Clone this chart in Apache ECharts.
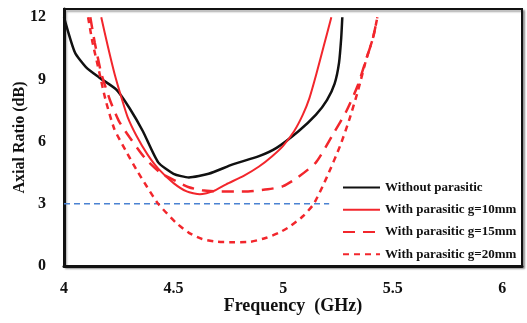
<!DOCTYPE html>
<html>
<head>
<meta charset="utf-8">
<script src="https://cdn.jsdelivr.net/npm/echarts@6/dist/echarts.min.js"></script>
<style>
  html, body { margin: 0; padding: 0; background: #fff; }
  #chart { width: 527px; height: 323px; }
</style>
</head>
<body>
<div id="chart"></div>
<script>
// Axial ratio (dB) vs frequency (GHz)
const withoutParasitic = [
  [4.0, 12], [4.05, 10.3], [4.1, 9.6], [4.16, 9.1], [4.24, 8.5], [4.3, 7.6],
  [4.36, 6.5], [4.43, 5.0], [4.5, 4.45], [4.57, 4.27], [4.66, 4.45], [4.77, 4.9],
  [4.89, 5.3], [4.97, 5.7], [5.07, 6.5], [5.15, 7.3], [5.2, 8.0], [5.235, 8.8],
  [5.255, 9.8], [5.265, 11], [5.27, 12]
];
const parasiticG10 = [
  [4.17, 12], [4.2, 10.6], [4.23, 9.3], [4.26, 8.2], [4.29, 7.2], [4.33, 6.3],
  [4.38, 5.4], [4.43, 4.7], [4.5, 4.0], [4.56, 3.6], [4.62, 3.46], [4.68, 3.6],
  [4.74, 3.94], [4.82, 4.35], [4.89, 4.8], [4.95, 5.3], [5.0, 5.8], [5.05, 6.5],
  [5.09, 7.3], [5.12, 8.1], [5.15, 9.2], [5.185, 10.6], [5.22, 12]
];
const parasiticG15 = [
  [4.12, 12], [4.14, 10.8], [4.17, 9.3], [4.21, 8.0], [4.25, 7.0], [4.3, 6.2],
  [4.37, 5.2], [4.44, 4.5], [4.51, 4.1], [4.57, 3.8], [4.63, 3.65], [4.7, 3.6],
  [4.84, 3.6], [4.93, 3.7], [5.0, 3.85], [5.07, 4.3], [5.15, 5.0], [5.23, 6.4],
  [5.29, 7.5], [5.34, 8.7], [5.38, 10.0], [5.41, 11.0], [5.43, 12]
];
const parasiticG20 = [
  [4.11, 12], [4.13, 10.8], [4.16, 9.4], [4.19, 8.0], [4.23, 6.6], [4.28, 5.6],
  [4.33, 4.66], [4.38, 3.8], [4.43, 3.0], [4.51, 2.1], [4.57, 1.6], [4.63, 1.3],
  [4.7, 1.17], [4.77, 1.15], [4.85, 1.17], [4.92, 1.35], [4.98, 1.6], [5.03, 1.9],
  [5.09, 2.4], [5.14, 3.0], [5.2, 4.3], [5.26, 5.8], [5.3, 7.0], [5.34, 8.4],
  [5.38, 10.0], [5.41, 11.0], [5.43, 12]
];
const threshold3dB = [[4.0, 3], [5.21, 3]];

const seriesNames = [
  "Without parasitic",
  "With parasitic g=10mm",
  "With parasitic g=15mm",
  "With parasitic g=20mm"
];

const FONT = "'Liberation Serif', 'DejaVu Serif', serif";
const RED = "#f2262c";

const chart = echarts.init(document.getElementById("chart"));

function curve(name, data, color, width, type) {
  return {
    name,
    type: "line",
    data,
    smooth: 0.2,
    showSymbol: false,
    lineStyle: { color, width, type },
    itemStyle: { color },
    z: 5,
  };
}

const option = {
  animation: false,
  backgroundColor: "#fff",
  grid: {
    left: 64,
    right: 5,
    top: 9,
    bottom: 57,
    outerBoundsMode: "none",
    show: true,
    borderColor: "#111",
    borderWidth: 2,
    backgroundColor: "#fff",
    shadowColor: "rgba(0,0,0,0.35)",
    shadowBlur: 2,
    shadowOffsetX: 2,
    shadowOffsetY: 2,
  },
  xAxis: {
    type: "value",
    min: 4,
    max: 6.09,
    interval: 0.5,
    name: "Frequency  (GHz)",
    nameLocation: "middle",
    nameMoveOverlap: false,
    nameGap: 31,
    nameTextStyle: { fontFamily: FONT, fontWeight: "bold", fontSize: 18, color: "#111" },
    axisLine: { lineStyle: { color: "#111", width: 3 } },
    axisTick: { show: false },
    splitLine: { show: false },
    axisLabel: {
      fontFamily: FONT,
      fontWeight: "bold",
      fontSize: 16,
      color: "#111",
      margin: 15,
      formatter: (v) => (Math.abs(v * 2 - Math.round(v * 2)) < 1e-6 ? String(v) : ""),
    },
  },
  yAxis: {
    type: "value",
    min: 0,
    max: 12.4,
    interval: 3,
    name: "Axial Ratio (dB)",
    nameLocation: "middle",
    nameMoveOverlap: false,
    nameGap: 36,
    nameTextStyle: { fontFamily: FONT, fontWeight: "bold", fontSize: 16, color: "#111" },
    axisLine: { show: true, lineStyle: { color: "#111", width: 3 } },
    axisTick: { show: false },
    splitLine: { show: false },
    axisLabel: {
      fontFamily: FONT,
      fontWeight: "bold",
      fontSize: 16,
      color: "#111",
      margin: 18,
      formatter: (v) => (v % 3 === 0 ? String(v) : ""),
    },
  },
  legend: {
    data: seriesNames,
    orient: "vertical",
    left: 337,
    top: 176,
    itemWidth: 37,
    itemHeight: 14,
    itemGap: 9,
    itemStyle: { opacity: 0 },
    textStyle: { fontFamily: FONT, fontWeight: "bold", fontSize: 13, color: "#111" },
  },
  series: [
    {
      name: "3 dB",
      type: "line",
      data: threshold3dB,
      showSymbol: false,
      lineStyle: { color: "#4a82d2", width: 1.5, type: [6, 4] },
      z: 2,
    },
    curve(seriesNames[0], withoutParasitic, "#111", 2.5, "solid"),
    curve(seriesNames[1], parasiticG10, RED, 2, "solid"),
    curve(seriesNames[2], parasiticG15, RED, 2.5, [12, 8]),
    curve(seriesNames[3], parasiticG20, RED, 2.5, [6, 5]),
  ],
};

chart.setOption(option);
</script>
</body>
</html>
